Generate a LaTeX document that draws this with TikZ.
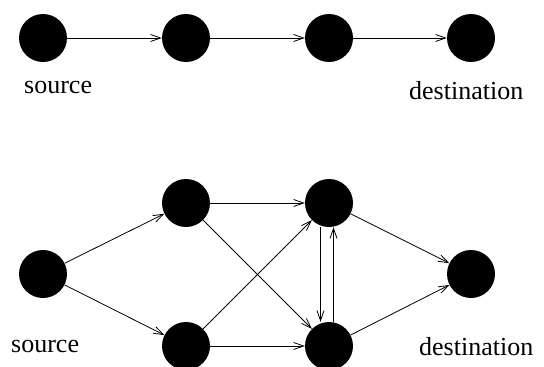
\documentclass[tikz,border=0pt]{standalone}
\usepackage{fontspec}
\setmainfont{Liberation Serif}
\usetikzlibrary{arrows.meta}
\begin{document}
\begin{tikzpicture}[x=1pt,y=-1pt,
  vertex/.style={circle,fill=black,draw=none,minimum size=48pt,inner sep=0pt},
  edge/.style={line width=0.8pt,-{Straight Barb[length=10pt,width=7pt,line width=0.8pt]}},
  lbl/.style={font=\fontsize{26}{26}\selectfont,inner sep=0pt}]
\useasboundingbox (0,0) rectangle (544,367);
% top chain
\node[vertex] (a1) at (43,38) {};
\node[vertex] (a2) at (186,38) {};
\node[vertex] (a3) at (329,38) {};
\node[vertex] (a4) at (471,38) {};
\draw[edge] (a1) -- (a2);
\draw[edge] (a2) -- (a3);
\draw[edge] (a3) -- (a4);
\node[lbl,anchor=base west] (ls1) at (24,93) {source};
\node[lbl,anchor=base west] (ld1) at (409,99) {destination};
% bottom graph
\node[vertex] (s) at (43,274) {};
\node[vertex] (u) at (186,203) {};
\node[vertex] (v) at (186,346) {};
\node[vertex] (w) at (329,203) {};
\node[vertex] (x) at (329,346) {};
\node[vertex] (d) at (471,274) {};
\draw[edge] (s) -- (u);
\draw[edge] (s) -- (v);
\draw[edge] (u) -- (w);
\draw[edge] (v) -- (x);
\draw[edge] (u) -- (x);
\draw[edge] (v) -- (w);
\draw[edge] ([xshift=-8.5pt]w.south) -- ([xshift=-8.5pt]x.north);
\draw[edge] ([xshift=4.5pt]x.north) -- ([xshift=4.5pt]w.south);
\draw[edge] (w) -- (d);
\draw[edge] (x) -- (d);
\node[lbl,anchor=base west] (ls2) at (11,352) {source};
\node[lbl,anchor=base west] (ld2) at (419,355) {destination};
\end{tikzpicture}
\end{document}
